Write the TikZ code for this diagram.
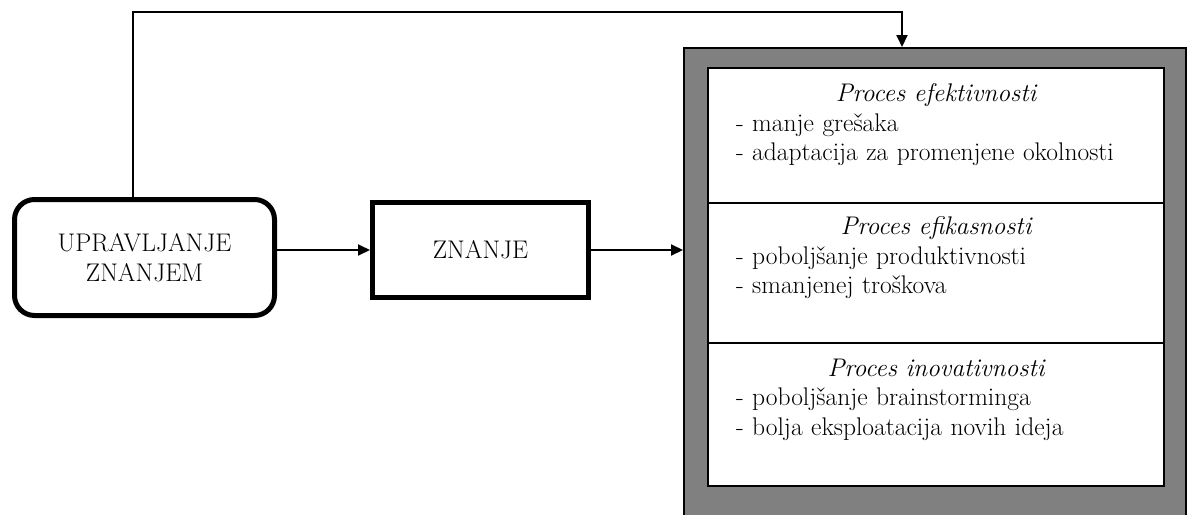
\documentclass[tikz,border=0pt]{standalone}
\usepackage{xcolor}
\usepackage{tikz}
\usetikzlibrary{positioning}
\usetikzlibrary{arrows.meta}

\begin{document}
\begin{tikzpicture}[x = 1pt, y = -1pt, line width = 2pt,
        >={Triangle[length=12pt, width=11pt]},
        font = \fontsize{25.5}{29.5}\selectfont,
        debelo/.style = {draw, line width = 5pt},
        sekcija/.style = {draw, fill = white, line width = 2pt, minimum width = 456pt},
        tekst/.style = {text width = 400pt, align = left, inner sep = 0pt}]
        \useasboundingbox (0, 0) rectangle (1188, 514);
        \clip (0, 0) rectangle (1188, 514);

        \node (upr) [debelo, rounded corners = 20pt, minimum width = 260pt, minimum height = 116pt, align = center] at (144.5, 257.5) {UPRAVLJANJE\\ZNANJEM};
        \node (zn) [debelo, minimum width = 216pt, minimum height = 95pt] at (480.5, 250) {ZNANJE};

        % okvir sa tri procesa
        \node (okvir) [draw, fill = black!50, line width = 1.5pt, minimum width = 502pt, minimum height = 520pt, anchor = north west] at (683, 47) {};
        \node (efek) [sekcija, minimum height = 135pt] at (936, 135.5) {};
        \node (efik) [sekcija, minimum height = 140pt] at (936, 273) {};
        \node (inov) [sekcija, minimum height = 143pt] at (936, 414.5) {};

        \node (efek-t) [tekst, below = 16pt of efek.north] {{\centering\itshape Proces efektivnosti\par}
            - manje grešaka\\- adaptacija za promenjene okolnosti};
        \node (efik-t) [tekst, below = 14pt of efik.north] {{\centering\itshape Proces efikasnosti\par}
            - poboljšanje produktivnosti\\- smanjenej troškova};
        \node (inov-t) [tekst, below = 16pt of inov.north] {{\centering\itshape Proces inovativnosti\par}
            - poboljšanje brainstorminga\\- bolja eksploatacija novih ideja};

        \coordinate (ulaz) at (902, 47);

        \draw[->] (upr.east |- zn.west) -- (zn.west);
        \draw[->] (zn.east) -- (zn.east -| okvir.west);
        \draw[->] ([xshift = -12pt]upr.north) |- (ulaz |- 0, 12) -- (ulaz);
    \end{tikzpicture}
\end{document}
